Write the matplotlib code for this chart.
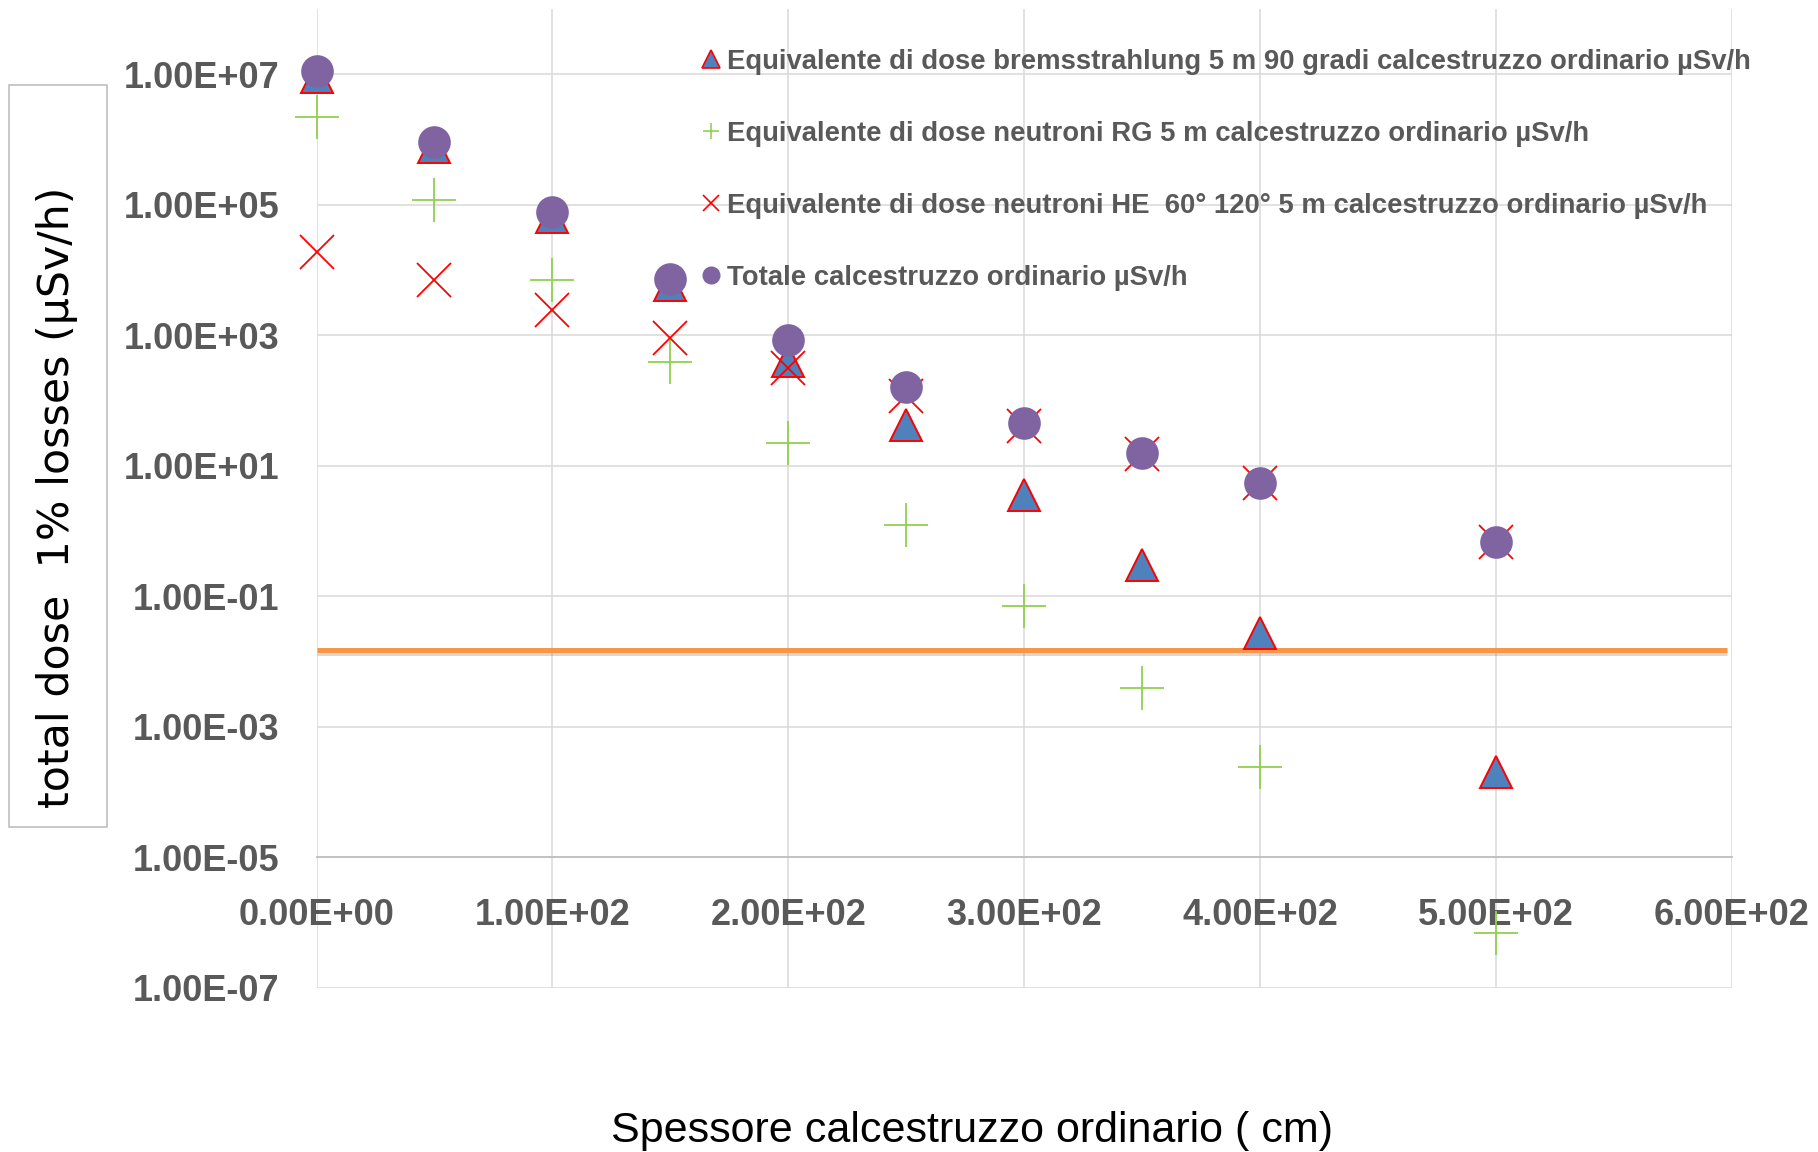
import matplotlib
matplotlib.use('Agg')
import matplotlib.pyplot as plt
import matplotlib.patheffects as pe
from matplotlib.lines import Line2D
from matplotlib.patches import Rectangle
from matplotlib.ticker import FixedLocator, FixedFormatter, NullLocator

# Data
thickness = [0, 50, 100, 150, 200, 250, 300, 350, 400, 500]
brems = [9.1e6, 7.6e5, 6.5e4, 5.9e3, 4.0e2, 4.2e1, 3.6e0, 3.0e-1, 2.7e-2, 2.0e-4]
neutr_rg = [2.2e6, 1.2e5, 7.0e3, 3.9e2, 2.2e1, 1.24e0, 7.2e-2, 4.0e-3, 2.4e-4, 6.9e-7]
neutr_he = [1.9e4, 7.0e3, 2.4e3, 9.0e2, 3.1e2, 1.18e2, 4.1e1, 1.5e1, 5.5e0, 6.9e-1]
totale = [1.1e7, 9.2e5, 7.7e4, 7.2e3, 8.5e2, 1.62e2, 4.6e1, 1.55e1, 5.5e0, 6.9e-1]

limit_x = [0, 598]
limit_y = [1.5e-2, 1.5e-2]

labels = [
    "Equivalente di dose bremsstrahlung 5 m 90 gradi calcestruzzo ordinario µSv/h",
    "Equivalente di dose neutroni RG 5 m calcestruzzo ordinario µSv/h",
    "Equivalente di dose neutroni HE  60° 120° 5 m calcestruzzo ordinario µSv/h",
    "Totale calcestruzzo ordinario µSv/h",
]

x_ticks = [0, 100, 200, 300, 400, 500, 600]
x_ticklabels = ["0.00E+00", "1.00E+02", "2.00E+02", "3.00E+02",
                "4.00E+02", "5.00E+02", "6.00E+02"]
y_ticks = [1e-7, 1e-5, 1e-3, 1e-1, 1e1, 1e3, 1e5, 1e7]
y_ticklabels = ["1.00E-07", "1.00E-05", "1.00E-03", "1.00E-01",
                "1.00E+01", "1.00E+03", "1.00E+05", "1.00E+07"]

narrow = ['Liberation Sans Narrow', 'Liberation Sans', 'DejaVu Sans']
gray_txt = '#595959'

fig = plt.figure(figsize=(18.18, 11.52), dpi=100)
ax = fig.add_axes([0.1741, 0.1424, 0.9527 - 0.1741, 0.9923 - 0.1424])

ax.set_yscale('log')
ax.set_xlim(0, 600)
ax.set_ylim(1e-7, 1e8)

ax.plot(thickness, brems, '^', ms=23, mfc='#4F81BD', mec='#FF0000', mew=1.4,
        ls='none', clip_on=False, zorder=3)
ax.plot(thickness, neutr_rg, '+', ms=32, mec='#92D050', mew=1.3,
        ls='none', clip_on=False, zorder=4)
ax.plot(thickness, neutr_he, 'x', ms=24, mec='#FF0000', mew=1.3,
        ls='none', clip_on=False, zorder=5)
ax.plot(thickness, totale, 'o', ms=23.5, mfc='#8064A2', mec='#8064A2', mew=0,
        ls='none', clip_on=False, zorder=6)

ax.plot(limit_x, limit_y, '-', color='#F79646', lw=3.6, solid_capstyle='butt',
        zorder=2.5, clip_on=False,
        path_effects=[pe.SimpleLineShadow(offset=(0, -2), shadow_color='#7F7F7F', alpha=0.3),
                      pe.Normal()])

# axes / grid styling
for s in ['top', 'right', 'left']:
    ax.spines[s].set_visible(False)
ax.spines['bottom'].set_position(('data', 1e-5))
ax.spines['bottom'].set_color('#BFBFBF')
ax.spines['bottom'].set_linewidth(1.3)
ax.spines['bottom'].set_zorder(1)

ax.xaxis.set_major_locator(FixedLocator(x_ticks))
ax.xaxis.set_major_formatter(FixedFormatter(x_ticklabels))
ax.yaxis.set_major_locator(FixedLocator(y_ticks))
ax.yaxis.set_major_formatter(FixedFormatter(y_ticklabels))
ax.yaxis.set_minor_locator(NullLocator())
ax.xaxis.set_minor_locator(NullLocator())

ax.tick_params(axis='both', length=0, labelcolor=gray_txt)
ax.tick_params(axis='y', pad=27)
ax.tick_params(axis='x', pad=29)
for lab in ax.get_xticklabels() + ax.get_yticklabels():
    lab.set_fontfamily(narrow)
    lab.set_fontweight('bold')
    lab.set_fontsize(26)

ax.set_axisbelow(True)
ax.grid(True, which='major', color='#D9D9D9', lw=1.1)

# legend
handles = [
    Line2D([], [], marker='^', ls='none', ms=13, mfc='#4F81BD', mec='#FF0000', mew=1.2),
    Line2D([], [], marker='+', ls='none', ms=12, mec='#92D050', mew=1.2),
    Line2D([], [], marker='x', ls='none', ms=12, mec='#FF0000', mew=1.2),
    Line2D([], [], marker='o', ls='none', ms=13, mfc='#8064A2', mec='#8064A2', mew=0),
]
leg = ax.legend(handles, labels, loc='upper left', frameon=False,
                bbox_to_anchor=(703 / 1818, 1 - 49 / 1152), bbox_transform=fig.transFigure,
                borderpad=0, borderaxespad=0, handlelength=0.55, handletextpad=0.32,
                labelspacing=1.67, prop={'family': narrow, 'weight': 'bold', 'size': 19.8})
for t in leg.get_texts():
    t.set_color(gray_txt)

# y label inside a light box
fig.patches.append(Rectangle((9 / 1818, 1 - 827 / 1152), 98 / 1818, 742 / 1152,
                             transform=fig.transFigure, fill=False,
                             edgecolor='#BFBFBF', lw=1.2))
fig.text(57 / 1818, 1 - 497 / 1152, "total dose  1% losses (µSv/h)", rotation=90,
         ha='center', va='center', fontsize=30.8, color='black', family='DejaVu Sans')

fig.text(972 / 1818, 1 - 1142 / 1152, "Spessore calcestruzzo ordinario ( cm)",
         ha='center', va='baseline', fontsize=31, color='black', family=narrow)

fig.savefig('out.png', dpi=100)
